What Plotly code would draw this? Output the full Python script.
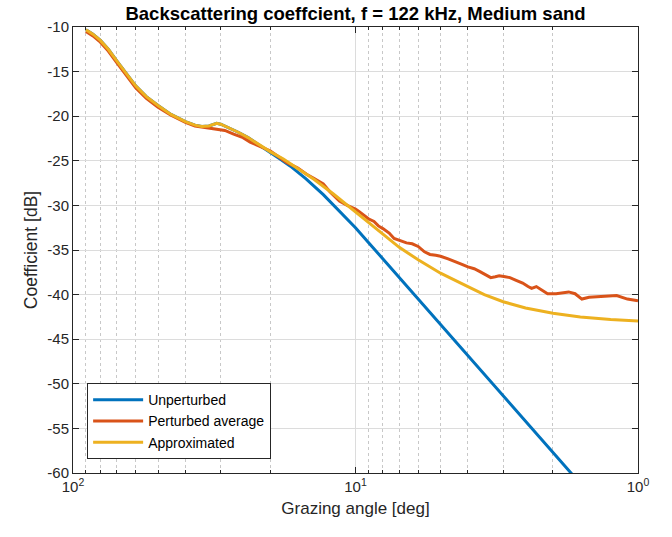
import plotly.graph_objects as go

# ---- data ----
common_angle = [90, 85, 80, 75, 70, 65, 60, 55, 50, 45, 40, 37, 35, 33, 31, 30, 28, 26, 24, 22, 20]
common_db = [-10.3, -10.8, -11.5, -12.5, -13.8, -15.2, -16.6, -17.8, -18.8, -19.8, -20.6, -21.0,
             -21.15, -21.1, -20.8, -20.9, -21.3, -21.8, -22.4, -23.2, -24.0]

blue_tail_angle = [18.5, 17, 15, 13, 11.5, 10, 9, 8, 7, 6, 5, 4, 3, 2, 1.5, 1]
blue_tail_db = [-24.8, -25.6, -27.0, -28.8, -30.5, -32.5, -34.15, -36.0, -38.1, -40.5, -43.35,
                -46.8, -51.3, -57.7, -62.2, -68.5]

yellow_tail_angle = [18, 16, 14, 12, 10, 9, 8, 7, 6, 5, 4, 3.5, 3, 2.5, 2, 1.6, 1.25, 1]
yellow_tail_db = [-24.8, -25.9, -27.1, -28.7, -30.7, -31.9, -33.2, -34.7, -36.1, -37.6, -39.1,
                  -40.0, -40.8, -41.5, -42.1, -42.5, -42.8, -42.95]

orange_angle = [90, 85, 80, 75, 70, 65, 60, 55, 50, 45, 40, 37, 35, 33, 31, 29, 27, 25, 23.6, 22,
                20, 19, 17.5, 16, 14.9, 14, 13, 12.3, 11.4, 10.7, 10, 9.7, 9.3, 9, 8.6, 8.3, 8,
                7.6, 7.3, 7, 6.6, 6.3, 6, 5.7, 5.45, 5.2, 5, 4.7, 4.4, 4.2, 4, 3.8, 3.64, 3.43,
                3.32, 3.2, 3.1, 2.95, 2.84, 2.7, 2.56, 2.45, 2.38, 2.29, 2.18, 2.09, 1.95, 1.85,
                1.76, 1.67, 1.58, 1.49, 1.34, 1.19, 1.09, 1.0]
orange_db = [-10.5, -11.0, -11.7, -12.7, -14.0, -15.4, -16.8, -18.0, -19.0, -19.9, -20.7, -21.1,
             -21.2, -21.3, -21.4, -21.6, -22.0, -22.4, -22.9, -23.3, -23.9, -24.4, -25.2, -25.8,
             -26.5, -27.0, -27.6, -28.5, -29.5, -30.0, -30.4, -30.7, -31.1, -31.5, -31.8, -32.3,
             -32.6, -33.1, -33.7, -33.9, -34.2, -34.3, -34.6, -35.2, -35.5, -35.6, -35.7, -36.0,
             -36.3, -36.6, -36.9, -37.1, -37.4, -37.9, -38.1, -38.0, -37.9, -38.0, -38.1, -38.4,
             -38.7, -39.1, -39.3, -39.1, -39.5, -39.9, -39.9, -39.8, -39.7, -39.9, -40.5, -40.3,
             -40.2, -40.1, -40.5, -40.7]

x_tickvals = [100, 10, 1]
x_ticktext = ["10<sup>2</sup>", "10<sup>1</sup>", "10<sup>0</sup>"]
x_minor = [90, 80, 70, 60, 50, 40, 30, 20, 9, 8, 7, 6, 5, 4, 3, 2]
y_ticks = [-60, -55, -50, -45, -40, -35, -30, -25, -20, -15, -10]
y_ticktext = [str(v) for v in y_ticks]

names = ["Unperturbed", "Perturbed average", "Approximated"]
colors = ["#0072BD", "#D95319", "#EDB120"]

blue_x = common_angle + blue_tail_angle
blue_y = common_db + blue_tail_db
yellow_x = common_angle + yellow_tail_angle
yellow_y = common_db + yellow_tail_db

fig = go.Figure()
for x, y, n, c in [(blue_x, blue_y, names[0], colors[0]),
                   (orange_angle, orange_db, names[1], colors[1]),
                   (yellow_x, yellow_y, names[2], colors[2])]:
    fig.add_trace(go.Scatter(x=x, y=y, mode="lines", name=n,
                             line=dict(color=c, width=3)))

axis_col = "#262626"
grid_col = "#dcdcdc"
fig.update_layout(
    width=672, height=537,
    margin=dict(l=73, r=34, t=27, b=64),
    paper_bgcolor="white", plot_bgcolor="white",
    font=dict(family="Liberation Sans, Arial, sans-serif", color=axis_col, size=14),
    title=dict(text="<b>Backscattering coeffcient, f = 122 kHz, Medium sand</b>",
               x=0.5, xanchor="center", xref="paper", y=0.974, yanchor="middle",
               font=dict(size=18.5, color="black")),
    showlegend=True,
    legend=dict(x=0.025, y=0.031, xanchor="left", yanchor="bottom",
                bgcolor="white", bordercolor=axis_col, borderwidth=1,
                font=dict(size=14, color="black"), tracegroupgap=0,
                itemwidth=50),
)
fig.update_xaxes(
    type="log", range=[2, 0], autorange=False,
    tickmode="array", tickvals=x_tickvals, ticktext=x_ticktext,
    ticks="inside", ticklen=6, tickcolor=axis_col,
    showline=True, linecolor=axis_col, linewidth=1, mirror="allticks",
    showgrid=True, gridcolor=grid_col, gridwidth=1,
    minor=dict(tickmode="array", tickvals=x_minor, ticks="inside", ticklen=3,
               tickcolor=axis_col, showgrid=True, gridcolor="#c8c8c8",
               griddash="dot", gridwidth=1),
    title=dict(text="Grazing angle [deg]", font=dict(size=17), standoff=8),
    tickfont=dict(size=15), zeroline=False,
)
fig.update_yaxes(
    range=[-60, -10], autorange=False,
    tickmode="array", tickvals=y_ticks, ticktext=y_ticktext,
    ticks="inside", ticklen=6, tickcolor=axis_col,
    showline=True, linecolor=axis_col, linewidth=1, mirror="allticks",
    showgrid=True, gridcolor=grid_col, gridwidth=1,
    title=dict(text="Coefficient [dB]", font=dict(size=17.5), standoff=5),
    tickfont=dict(size=15), zeroline=False,
)

fig.write_html("out.html")
